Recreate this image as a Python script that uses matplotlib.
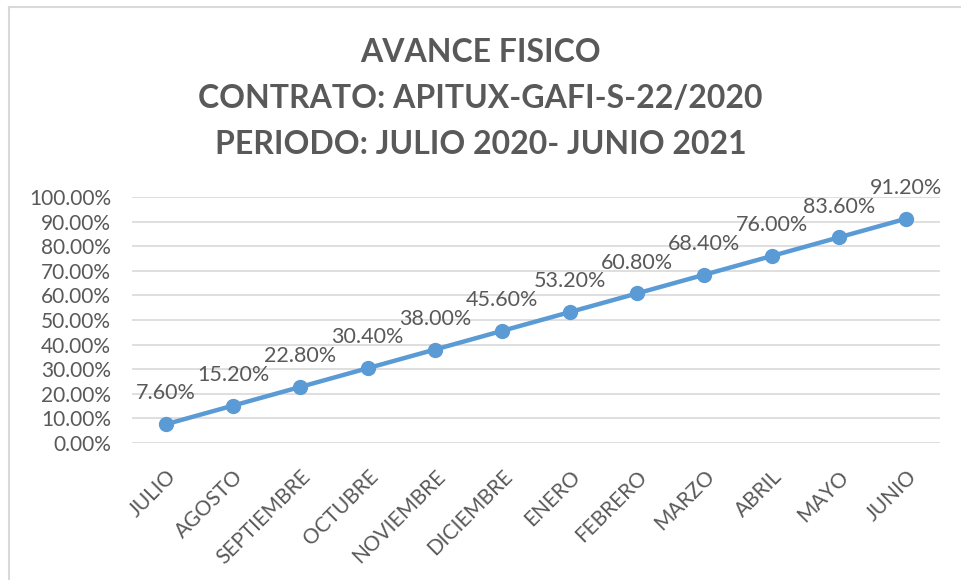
import matplotlib
matplotlib.use("Agg")
from matplotlib import pyplot as plt
from matplotlib.lines import Line2D
from matplotlib.ticker import PercentFormatter

meses = ["JULIO", "AGOSTO", "SEPTIEMBRE", "OCTUBRE", "NOVIEMBRE", "DICIEMBRE",
         "ENERO", "FEBRERO", "MARZO", "ABRIL", "MAYO", "JUNIO"]
avance = [7.60, 15.20, 22.80, 30.40, 38.00, 45.60,
          53.20, 60.80, 68.40, 76.00, 83.60, 91.20]
y_ticks = [0, 10, 20, 30, 40, 50, 60, 70, 80, 90, 100]
titulo = "AVANCE FISICO\nCONTRATO: APITUX-GAFI-S-22/2020\nPERIODO: JULIO 2020- JUNIO 2021"

plt.rcParams['font.family'] = ['Lato', 'DejaVu Sans']
gris = '#595959'
azul = '#5B9BD5'

fig = plt.figure(figsize=(9.61, 5.80), dpi=100)
ax = fig.add_axes([0.1374, 0.2362, 0.8406, 0.4241])

x = list(range(len(meses)))
ax.plot(x, avance, color=azul, linewidth=3.2, marker='o', markersize=10, zorder=3)

for xi, v in zip(x, avance):
    ax.annotate(f"{v:.2f}%", (xi, v), xytext=(0, 15), textcoords='offset points',
                ha='center', va='bottom', fontsize=15.5, color=gris)

ax.set_xlim(-0.5, len(meses) - 0.5)
ax.set_ylim(0, 100)
ax.set_yticks(y_ticks)
ax.yaxis.set_major_formatter(PercentFormatter(decimals=2))
ax.set_xticks(x)
ax.set_xticklabels(meses, rotation=45, ha='right', va='top', rotation_mode='anchor')
ax.tick_params(axis='both', length=0, labelsize=15, colors=gris)
ax.tick_params(axis='x', pad=17)
ax.tick_params(axis='y', pad=15)
ax.grid(True, axis='y', color='#D9D9D9', linewidth=1.2)
ax.set_axisbelow(True)
for s in ax.spines.values():
    s.set_visible(False)

fig.text(0.5, 0.934, titulo, ha='center', va='top', fontsize=23, fontweight='bold',
         color=gris, linespacing=1.7)

# borde del grafico (recortado a la derecha y abajo)
fig.add_artist(Line2D([0.0094, 0.0094], [0.0, 0.9887], color='#D9D9D9', linewidth=1.5))
fig.add_artist(Line2D([0.0094, 1.0], [0.9887, 0.9887], color='#D9D9D9', linewidth=1.5))

fig.savefig("out.png", dpi=100)
plt.close(fig)
